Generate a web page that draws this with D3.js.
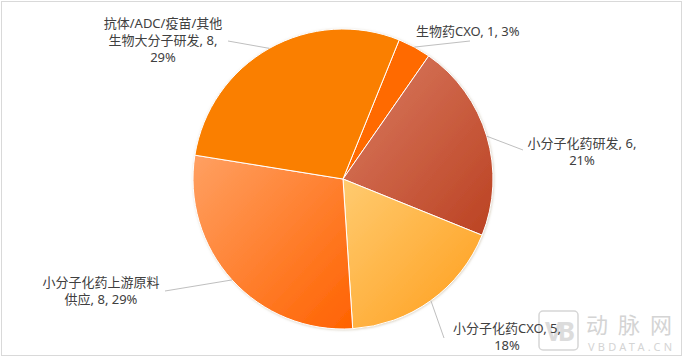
<!DOCTYPE html>
<html>
<head>
<meta charset="utf-8">
<script src="https://cdn.jsdelivr.net/npm/d3@7"></script>
<style>
  body { margin: 0; background: #fff; }
  text { font-family: "Noto Sans", "Noto Sans CJK SC", sans-serif; }
</style>
</head>
<body>
<svg id="chart" width="684" height="362"></svg>
<script>
// data
var categories = ["生物药CXO", "小分子化药研发", "小分子化药CXO", "小分子化药上游原料供应", "抗体/ADC/疫苗/其他生物大分子研发"];
var values = [1, 6, 5, 8, 8];
var labelLines = [
  ["生物药CXO, 1, 3%"],
  ["小分子化药研发, 6,", "21%"],
  ["小分子化药CXO, 5,", "18%"],
  ["小分子化药上游原料", "供应, 8, 29%"],
  ["抗体/ADC/疫苗/其他", "生物大分子研发, 8,", "29%"]
];
var colorFrom = ["#FF6A00", "#DA7C62", "#FFCB70", "#FFA062", "#FA7F00"];
var colorTo   = ["#FF6A00", "#BB4222", "#FF9D1A", "#FF6200", "#FA7F00"];

var svg = d3.select("#chart");
var width = 684, height = 362;
var cx = 343, cy = 179, r = 150;

// frame
svg.append("rect")
  .attr("x", 1.5).attr("y", 1.5)
  .attr("width", 680).attr("height", 354)
  .attr("fill", "#fff")
  .attr("stroke", "#d9d9d9");

var defs = svg.append("defs");
values.forEach(function(v, i) {
  var g = defs.append("linearGradient")
    .attr("id", "grad" + i)
    .attr("x1", 0).attr("y1", 0).attr("x2", 1).attr("y2", 1);
  g.append("stop").attr("offset", "0%").attr("stop-color", colorFrom[i]);
  g.append("stop").attr("offset", "100%").attr("stop-color", colorTo[i]);
});
var shadow = defs.append("filter").attr("id", "shadow")
  .attr("x", "-10%").attr("y", "-10%").attr("width", "120%").attr("height", "120%");
shadow.append("feDropShadow")
  .attr("dx", 0.6).attr("dy", 0.6).attr("stdDeviation", 1)
  .attr("flood-color", "#b0a080").attr("flood-opacity", 0.5);

var start = 22 * Math.PI / 180;
var pie = d3.pie().sort(null)
  .startAngle(start).endAngle(start + 2 * Math.PI)
  .value(function(d) { return d; });
var arcs = pie(values);
var arc = d3.arc().innerRadius(0).outerRadius(r);

// watermark (behind labels)
var wm = svg.append("g");
wm.append("rect")
  .attr("x", 539).attr("y", 311).attr("width", 39).attr("height", 39)
  .attr("rx", 4).attr("fill", "none").attr("stroke", "#d6d6d6").attr("stroke-width", 1.5);
wm.append("text")
  .attr("x", 558).attr("y", 341).attr("text-anchor", "middle")
  .attr("font-size", "26px").attr("font-weight", "bold")
  .attr("fill", "#dcdcdc").attr("letter-spacing", "-4")
  .text("VB");
wm.append("text")
  .attr("x", 586).attr("y", 333)
  .attr("font-size", "22px")
  .attr("fill", "#d4d4d4").attr("textLength", 86)
  .text("动脉网");
wm.append("text")
  .attr("x", 588).attr("y", 351)
  .attr("font-size", "11px")
  .attr("fill", "#d4d4d4").attr("textLength", 84)
  .text("VBDATA.CN");

var g = svg.append("g").attr("transform", "translate(" + cx + "," + cy + ")");
g.append("g").attr("filter", "url(#shadow)")
  .selectAll("path")
  .data(arcs)
  .enter()
  .append("path")
  .attr("d", arc)
  .attr("fill", function(d, i) { return "url(#grad" + i + ")"; })
  .attr("stroke", "#fff")
  .attr("stroke-width", 1);

// leader lines (pie edge -> label), label placement
var labelPos = [
  { x: 416, y: 36, anchor: "start", line: [470, 41] },
  { x: 582, y: 148, anchor: "middle", line: [523, 150] },
  { x: 507, y: 333, anchor: "middle", line: [444, 338] },
  { x: 101, y: 287, anchor: "middle", line: [165, 291] },
  { x: 163, y: 28, anchor: "middle", line: [228, 41] }
];
var outer = d3.arc().innerRadius(r).outerRadius(r);

svg.selectAll("line.leader")
  .data(arcs)
  .enter()
  .append("line")
  .attr("class", "leader")
  .attr("x1", function(d) { return cx + outer.centroid(d)[0]; })
  .attr("y1", function(d) { return cy + outer.centroid(d)[1]; })
  .attr("x2", function(d, i) { return labelPos[i].line[0]; })
  .attr("y2", function(d, i) { return labelPos[i].line[1]; })
  .attr("stroke", "#bfbfbf")
  .attr("stroke-width", 1);

var labels = svg.selectAll("text.lbl")
  .data(labelLines)
  .enter()
  .append("text")
  .attr("class", "lbl")
  .attr("font-size", "13px")
  .attr("fill", "#404040")
  .attr("text-anchor", function(d, i) { return labelPos[i].anchor; });
labels.each(function(lines, i) {
  var t = d3.select(this);
  lines.forEach(function(s, k) {
    t.append("tspan")
      .attr("x", labelPos[i].x)
      .attr("y", labelPos[i].y + k * 17)
      .text(s);
  });
});
</script>
</body>
</html>
